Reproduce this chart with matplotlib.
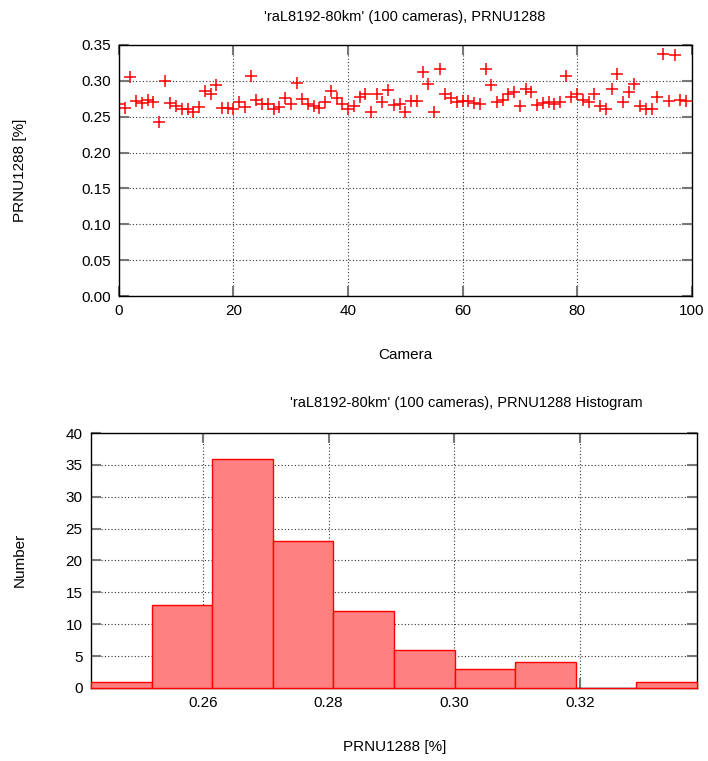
import numpy as np
import matplotlib
matplotlib.use('Agg')
import matplotlib.pyplot as plt

plt.rcParams['font.family'] = ['Liberation Sans', 'DejaVu Sans']

# PRNU1288 per camera
prnu = [0.267, 0.262, 0.305, 0.272, 0.269, 0.273, 0.271, 0.243, 0.299, 0.269,
        0.265, 0.261, 0.260, 0.256, 0.264, 0.286, 0.281, 0.294, 0.262, 0.262,
        0.261, 0.271, 0.263, 0.307, 0.273, 0.268, 0.268, 0.261, 0.264, 0.276,
        0.268, 0.297, 0.274, 0.268, 0.265, 0.262, 0.270, 0.286, 0.276, 0.268,
        0.261, 0.265, 0.277, 0.281, 0.256, 0.282, 0.270, 0.287, 0.266, 0.268,
        0.256, 0.272, 0.272, 0.312, 0.295, 0.257, 0.316, 0.282, 0.276, 0.271,
        0.272, 0.272, 0.269, 0.268, 0.316, 0.294, 0.271, 0.273, 0.282, 0.284,
        0.265, 0.289, 0.284, 0.266, 0.269, 0.271, 0.268, 0.271, 0.307, 0.278,
        0.282, 0.273, 0.270, 0.281, 0.265, 0.261, 0.288, 0.309, 0.271, 0.284,
        0.296, 0.265, 0.261, 0.261, 0.278, 0.338, 0.272, 0.336, 0.273, 0.272]
cameras = list(range(len(prnu)))

# histogram (counts per bin)
hist_counts = [1, 13, 36, 23, 12, 6, 3, 4, 0, 1]
hist_lo, hist_hi = 0.2422, 0.3386

title = "'raL8192-80km' (100 cameras), PRNU1288"

fig = plt.figure(figsize=(7.08, 7.61), dpi=100)

def style(ax):
    ax.grid(True, linestyle=(0, (1, 2)), color='#333333', linewidth=0.8)
    ax.tick_params(direction='in', top=True, right=True, length=7, width=1.5,
                   color='#777777', labelsize=11, pad=6)
    for s in ax.spines.values():
        s.set_linewidth(1.0)

# scatter
ax1 = fig.add_axes([0.168, 0.611, 0.809, 0.330])
ax1.plot(cameras, prnu, '+', color='red', markersize=9, markeredgewidth=1.1)
ax1.set_xlim(0, 100)
ax1.set_ylim(0, 0.35)
ax1.set_xticks(range(0, 101, 20))
ax1.set_yticks(np.arange(0, 0.351, 0.05))
ax1.yaxis.set_major_formatter(matplotlib.ticker.FormatStrFormatter('%.2f'))
style(ax1)
fig.text(0.572, 0.978, title, ha='center', va='center', fontsize=10.5)
fig.text(0.572, 0.534, 'Camera', ha='center', va='center', fontsize=11)
fig.text(0.028, 0.776, 'PRNU1288 [%]', ha='center', va='center', rotation=90, fontsize=11)

# histogram
ax2 = fig.add_axes([0.1285, 0.096, 0.856, 0.335])
edges = np.linspace(hist_lo, hist_hi, len(hist_counts) + 1)
bars = ax2.bar(edges[:-1], hist_counts, width=np.diff(edges), align='edge',
               color='#ff8080', edgecolor='red', linewidth=1.0, zorder=3)
for b in bars:
    b.set_clip_on(False)
ax2.set_xlim(hist_lo, hist_hi)
ax2.set_ylim(0, 40)
ax2.set_xticks([0.26, 0.28, 0.30, 0.32])
ax2.set_yticks(range(0, 41, 5))
ax2.xaxis.set_major_formatter(matplotlib.ticker.FormatStrFormatter('%.2f'))
style(ax2)
fig.text(0.658, 0.470, title + ' Histogram', ha='center', va='center', fontsize=10.5)
fig.text(0.557, 0.019, 'PRNU1288 [%]', ha='center', va='center', fontsize=11)
fig.text(0.028, 0.264, 'Number', ha='center', va='center', rotation=90, fontsize=11)

fig.savefig('out.png', dpi=100)
